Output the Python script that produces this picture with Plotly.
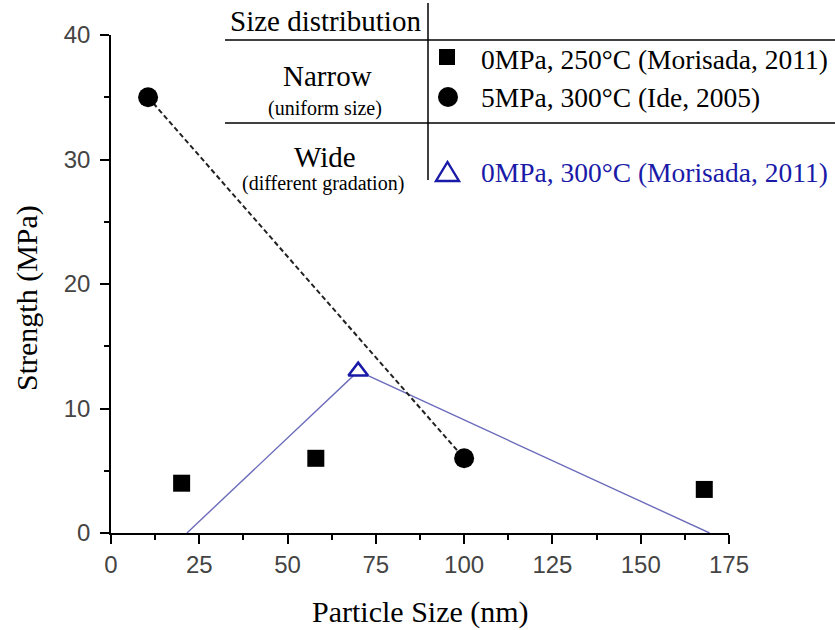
import plotly.graph_objects as go

# ---- data ----
sq_x = [20, 58, 168]          # 0MPa, 250°C (Morisada, 2011)
sq_y = [4.0, 6.0, 3.5]
ci_x = [10.5, 100]            # 5MPa, 300°C (Ide, 2005)
ci_y = [35.0, 6.0]
tri_x = [70]                  # 0MPa, 300°C (Morisada, 2011)
tri_y = [13.0]
wide_x = [21.5, 70, 169.5]    # trend line for wide distribution
wide_y = [0, 13.0, 0]

x_ticks = [0, 25, 50, 75, 100, 125, 150, 175]
y_ticks = [0, 10, 20, 30, 40]

W, H = 835, 630
L, R, T, B = 111, 106, 35, 97
PW, PH = W - L - R, H - T - B

def px(x):
    return (x - L) / PW

def py(y):
    return (H - B - y) / PH

SERIF = "Liberation Serif, Times New Roman, serif"
SANS = "Liberation Sans, Arial, sans-serif"
BLUE = "#1a1aa8"
LINEBLUE = "#6c6cbc"
TICKCOL = "#444444"

fig = go.Figure()

fig.add_trace(go.Scatter(x=wide_x, y=wide_y, mode="lines",
                         line=dict(color=LINEBLUE, width=1.4), hoverinfo="skip"))
fig.add_trace(go.Scatter(x=ci_x, y=ci_y, mode="lines+markers",
                         line=dict(color="#222", width=2, dash="5px,3px"),
                         marker=dict(symbol="circle", size=20, color="black")))
fig.add_trace(go.Scatter(x=sq_x, y=sq_y, mode="markers",
                         marker=dict(symbol="square", size=17, color="black")))
fig.add_trace(go.Scatter(x=tri_x, y=tri_y, mode="markers",
                         marker=dict(symbol="triangle-up", size=17, color="white",
                                     line=dict(color=BLUE, width=2.5))))

shapes = []
# table lines
shapes.append(dict(type="line", xref="paper", yref="paper",
                   x0=px(225), x1=px(835), y0=py(40), y1=py(40),
                   line=dict(color="black", width=1.5)))
shapes.append(dict(type="line", xref="paper", yref="paper",
                   x0=px(225), x1=px(835), y0=py(123), y1=py(123),
                   line=dict(color="black", width=1.5)))
shapes.append(dict(type="line", xref="paper", yref="paper",
                   x0=px(428), x1=px(428), y0=py(3), y1=py(180),
                   line=dict(color="black", width=1.5)))
# legend glyphs
shapes.append(dict(type="rect", xref="paper", yref="paper",
                   x0=px(439), x1=px(455), y0=py(49), y1=py(65),
                   fillcolor="black", line=dict(width=0)))
shapes.append(dict(type="circle", xref="paper", yref="paper",
                   x0=px(438), x1=px(458), y0=py(87), y1=py(107),
                   fillcolor="black", line=dict(width=0)))
shapes.append(dict(type="path", xref="paper", yref="paper",
                   path=f"M {px(436)} {py(181)} L {px(459)} {py(181)} L {px(447.5)} {py(162)} Z",
                   fillcolor="white", line=dict(color=BLUE, width=2.4)))

ann = []
def txt(x, y, s, size, color="black", xanchor="center", font=SERIF):
    ann.append(dict(x=px(x), y=py(y), xref="paper", yref="paper", text=s,
                    showarrow=False, xanchor=xanchor, yanchor="middle",
                    font=dict(family=font, size=size, color=color)))

txt(325, 21, "Size distribution", 29)
txt(327, 76, "Narrow", 29)
txt(325, 108, "(uniform size)", 20)
txt(325, 157, "Wide", 29)
txt(323, 183, "(different gradation)", 20)
txt(479, 59, "0MPa, 250°C (Morisada, 2011)", 27.5, xanchor="left")
txt(479, 97, "5MPa, 300°C (Ide, 2005)", 27.5, xanchor="left")
txt(479, 172, "0MPa, 300°C (Morisada, 2011)", 27.5, color=BLUE, xanchor="left")

# axis titles
txt(420, 612, "Particle Size (nm)", 30)
ann.append(dict(x=px(27), y=py(298), xref="paper", yref="paper",
                text="Strength (MPa)", showarrow=False, textangle=-90,
                xanchor="center", yanchor="middle",
                font=dict(family=SERIF, size=30, color="black")))

fig.update_layout(
    width=W, height=H,
    margin=dict(l=L, r=R, t=T, b=B),
    paper_bgcolor="white", plot_bgcolor="white",
    showlegend=False,
    shapes=shapes, annotations=ann,
    xaxis=dict(range=[0, 175], tickvals=x_ticks, ticks="outside", ticklen=9,
               tickwidth=1.5, tickcolor="black", showline=True, linecolor="black",
               linewidth=1.5, showgrid=False, zeroline=False,
               tickfont=dict(family=SANS, size=24, color=TICKCOL),
               minor=dict(dtick=12.5, tick0=0, ticks="outside", ticklen=5,
                          tickwidth=1.5, tickcolor="black", showgrid=False)),
    yaxis=dict(range=[0, 40], tickvals=y_ticks, ticks="outside", ticklen=9,
               tickwidth=1.5, tickcolor="black", showline=True, linecolor="black",
               linewidth=1.5, showgrid=False, zeroline=False,
               ticklabelstandoff=5,
               tickfont=dict(family=SANS, size=24, color=TICKCOL),
               minor=dict(dtick=5, tick0=0, ticks="outside", ticklen=5,
                          tickwidth=1.5, tickcolor="black", showgrid=False)),
)

fig.write_html("out.html")
